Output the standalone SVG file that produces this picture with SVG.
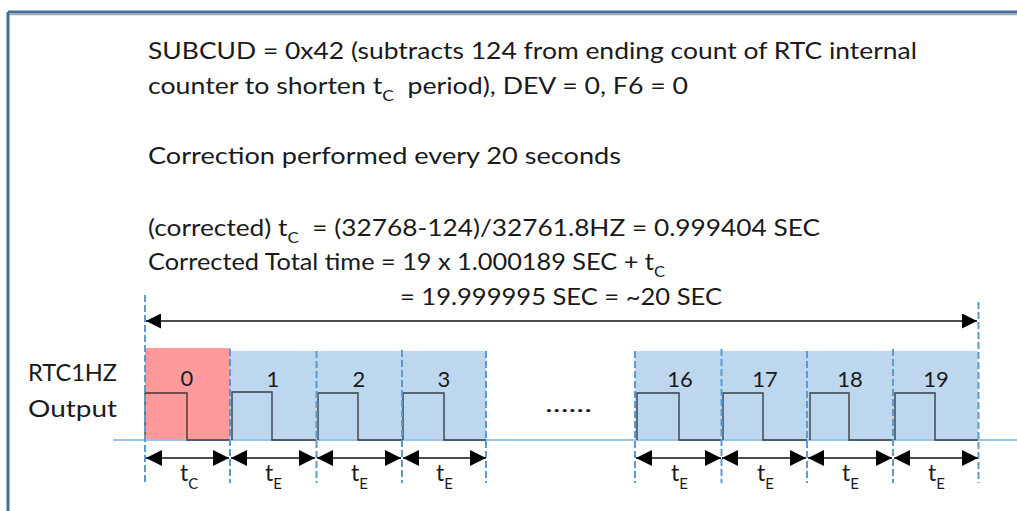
<svg xmlns="http://www.w3.org/2000/svg" width="1017" height="511" viewBox="0 0 1017 511">
<style>
.t{font-family:Lato,"Open Sans","Liberation Sans",sans-serif;font-size:23px;fill:#1a1a1a}
.n{font-family:Lato,"Open Sans","Liberation Sans",sans-serif;font-size:22px;fill:#1a1a1a;text-anchor:middle}
.sub{font-size:15px}
.dash{stroke:#5b9bd5;stroke-width:2;stroke-dasharray:7,3;fill:none}
.blue{fill:#bdd7ee}
.red{fill:#ff9a9c}
.wave{fill:none;stroke:#1a1a1a;stroke-opacity:0.8;stroke-width:1.4}
.dim{stroke:#111;stroke-width:1.6;fill:none}
</style>
<defs>
<marker id="ah" viewBox="0 0 16 16" refX="16" refY="8" markerWidth="16" markerHeight="16" markerUnits="userSpaceOnUse" orient="auto-start-reverse"><path d="M0,0 L16,8 L0,16 z" fill="#000"/></marker>
<marker id="ah2" viewBox="0 0 15 15" refX="15" refY="7.5" markerWidth="15" markerHeight="15" markerUnits="userSpaceOnUse" orient="auto-start-reverse"><path d="M0,0 L15,7.5 L0,15 z" fill="#000"/></marker>
</defs>
<rect width="1017" height="511" fill="#fff"/>
<g id="frame">
<line x1="8" y1="14.5" x2="1017" y2="14.5" stroke="#a6a6a6" stroke-width="1.5"/>
<line x1="8" y1="12" x2="1017" y2="12" stroke="#41719c" stroke-width="3"/>
<line x1="8" y1="12" x2="8" y2="511" stroke="#41719c" stroke-width="3"/>
</g>
<g id="header">
<text class="t" x="148" y="59" textLength="769" lengthAdjust="spacingAndGlyphs">SUBCUD = 0x42 (subtracts 124 from ending count of RTC internal</text>
<text class="t" x="148" y="94" textLength="540" lengthAdjust="spacingAndGlyphs">counter to shorten t<tspan class="sub" dy="7">C</tspan><tspan dy="-7">&#160; period), DEV = 0, F6 = 0</tspan></text>
<text class="t" x="148" y="164" textLength="473" lengthAdjust="spacingAndGlyphs">Correction performed every 20 seconds</text>
<text class="t" x="148" y="236" textLength="672" lengthAdjust="spacingAndGlyphs">(corrected) t<tspan class="sub" dy="7">C</tspan><tspan dy="-7">&#160; = (32768-124)/32761.8HZ = 0.999404 SEC</tspan></text>
<text class="t" x="148" y="270" textLength="517" lengthAdjust="spacingAndGlyphs">Corrected Total time = 19 x 1.000189 SEC + t<tspan class="sub" dy="7">C</tspan></text>
<text class="t" x="400" y="305" textLength="322" lengthAdjust="spacingAndGlyphs">= 19.999995 SEC = ~20 SEC</text>
<text class="t" x="28" y="381" textLength="89" lengthAdjust="spacingAndGlyphs">RTC1HZ</text>
<text class="t" x="28" y="417" textLength="89" lengthAdjust="spacingAndGlyphs">Output</text>
<text class="t" x="545" y="412" textLength="47" lengthAdjust="spacingAndGlyphs">......</text>
</g>
<g id="bands">
<rect class="red" x="145" y="348" width="85" height="92"/>
<rect class="blue" x="230" y="351" width="256" height="89"/>
<rect class="blue" x="635" y="351" width="343" height="89"/>
<line x1="113" y1="440" x2="1017" y2="440" stroke="#9dc3e6" stroke-width="2"/>
</g>
<g id="seg0"><path class="wave" d="M145,440 V393 H187 V440 H230" stroke="#5a0f0f"/><text class="n" x="187" y="386">0</text></g>
<g id="seg1"><path class="wave" d="M232,440 V392 H272 V440 H316"/><text class="n" x="273" y="387">1</text></g>
<g id="seg2"><path class="wave" d="M318,440 V393 H358 V440 H402"/><text class="n" x="359" y="387">2</text></g>
<g id="seg3"><path class="wave" d="M403,440 V393 H444 V440 H486"/><text class="n" x="444" y="387">3</text></g>
<g id="seg16"><path class="wave" d="M637,440 V393 H679 V440 H722"/><text class="n" x="680" y="387">16</text></g>
<g id="seg17"><path class="wave" d="M723,440 V393 H763 V440 H807"/><text class="n" x="765" y="387">17</text></g>
<g id="seg18"><path class="wave" d="M810,440 V393 H849 V440 H893"/><text class="n" x="850" y="387">18</text></g>
<g id="seg19"><path class="wave" d="M895,440 V393 H935 V440 H978"/><text class="n" x="936" y="387">19</text></g>
<g id="gridlines">
<line class="dash" x1="145" y1="295" x2="145" y2="483"/>
<line class="dash" x1="230" y1="349" x2="230" y2="483"/>
<line class="dash" x1="316.5" y1="351" x2="316.5" y2="483"/>
<line class="dash" x1="402" y1="350" x2="402" y2="483"/>
<line class="dash" x1="486" y1="351" x2="486" y2="483"/>
<line class="dash" x1="635" y1="351" x2="635" y2="483"/>
<line class="dash" x1="721.5" y1="349" x2="721.5" y2="483"/>
<line class="dash" x1="807" y1="351" x2="807" y2="483"/>
<line class="dash" x1="893" y1="349" x2="893" y2="483"/>
<line class="dash" x1="978.5" y1="302" x2="978.5" y2="483"/>
</g>
<g id="connectors">
<line class="dim" x1="146" y1="321" x2="977" y2="321" marker-start="url(#ah2)" marker-end="url(#ah2)"/>
<line class="dim" x1="146" y1="458" x2="229" y2="458" marker-start="url(#ah)" marker-end="url(#ah)"/>
<line class="dim" x1="231" y1="458" x2="315" y2="458" marker-start="url(#ah)" marker-end="url(#ah)"/>
<line class="dim" x1="317" y1="458" x2="401" y2="458" marker-start="url(#ah)" marker-end="url(#ah)"/>
<line class="dim" x1="403" y1="458" x2="486" y2="458" marker-start="url(#ah)" marker-end="url(#ah)"/>
<line class="dim" x1="636" y1="458" x2="721" y2="458" marker-start="url(#ah)" marker-end="url(#ah)"/>
<line class="dim" x1="722" y1="458" x2="806" y2="458" marker-start="url(#ah)" marker-end="url(#ah)"/>
<line class="dim" x1="808" y1="458" x2="892" y2="458" marker-start="url(#ah)" marker-end="url(#ah)"/>
<line class="dim" x1="894" y1="458" x2="978" y2="458" marker-start="url(#ah)" marker-end="url(#ah)"/>
</g>
<g id="labels">
<text class="t" x="180" y="481">t<tspan class="sub" dy="8">C</tspan></text>
<text class="t" x="265" y="481">t<tspan class="sub" dy="8">E</tspan></text>
<text class="t" x="351" y="481">t<tspan class="sub" dy="8">E</tspan></text>
<text class="t" x="436" y="481">t<tspan class="sub" dy="8">E</tspan></text>
<text class="t" x="671" y="481">t<tspan class="sub" dy="8">E</tspan></text>
<text class="t" x="757" y="481">t<tspan class="sub" dy="8">E</tspan></text>
<text class="t" x="842" y="481">t<tspan class="sub" dy="8">E</tspan></text>
<text class="t" x="928" y="481">t<tspan class="sub" dy="8">E</tspan></text>
</g>
</svg>
